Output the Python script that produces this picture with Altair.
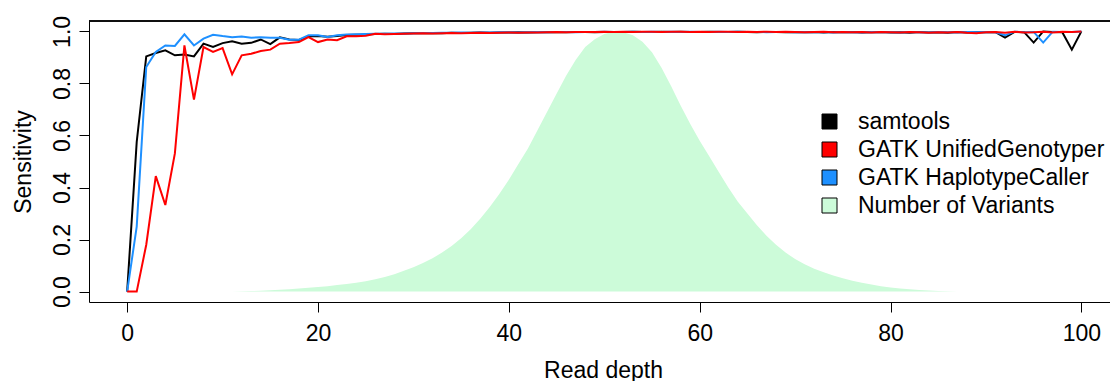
import altair as alt
import pandas as pd

# ---------------- data ----------------
depth = list(range(0, 101))

samtools = [
    0.000, 0.575, 0.904, 0.917, 0.927, 0.908, 0.911, 0.904, 0.953, 0.940,
    0.955, 0.962, 0.953, 0.956, 0.969, 0.951, 0.977, 0.969, 0.967, 0.980,
    0.982, 0.979, 0.982, 0.986, 0.987, 0.988, 0.990, 0.991, 0.990, 0.992,
    0.993, 0.993, 0.994, 0.993, 0.995, 0.994, 0.995, 0.996, 0.995, 0.996,
    0.996, 0.997, 0.996, 0.997, 0.997, 0.998, 0.997, 0.998, 0.998, 0.997,
    0.998, 0.998, 0.998, 0.999, 0.998, 0.998, 0.999, 0.998, 0.999, 0.998,
    0.998, 0.999, 0.998, 0.998, 0.999, 0.998, 0.997, 0.998, 0.998, 0.997,
    0.998, 0.997, 0.998, 0.996, 0.998, 0.997, 0.998, 0.996, 0.997, 0.998,
    0.996, 0.997, 0.995, 0.998, 0.996, 0.997, 0.995, 0.998, 0.996, 0.997,
    0.998, 0.997, 0.976, 0.998, 0.997, 0.957, 1.000, 0.998, 0.997, 0.930,
    1.000,
]

unified = [
    0.000, 0.000, 0.180, 0.444, 0.333, 0.531, 0.946, 0.738, 0.940, 0.921,
    0.936, 0.835, 0.908, 0.914, 0.925, 0.930, 0.953, 0.955, 0.959, 0.978,
    0.959, 0.969, 0.966, 0.981, 0.981, 0.983, 0.991, 0.989, 0.990, 0.991,
    0.992, 0.993, 0.992, 0.993, 0.994, 0.993, 0.994, 0.995, 0.994, 0.995,
    0.996, 0.995, 0.996, 0.996, 0.997, 0.998, 0.997, 0.998, 0.998, 0.998,
    0.999, 0.998, 0.999, 0.998, 0.999, 0.999, 0.998, 0.999, 0.999, 0.998,
    0.999, 0.998, 0.999, 0.999, 0.998, 0.999, 0.998, 0.999, 0.998, 0.999,
    0.998, 0.997, 0.998, 0.999, 0.997, 0.998, 0.997, 0.998, 0.996, 0.998,
    0.997, 0.996, 0.998, 0.997, 0.995, 0.997, 0.996, 0.998, 0.995, 0.993,
    0.997, 0.998, 0.995, 0.999, 0.996, 0.997, 0.999, 0.996, 0.999, 0.998,
    1.000,
]

haplotype = [
    0.000, 0.250, 0.863, 0.921, 0.946, 0.944, 0.989, 0.946, 0.972, 0.987,
    0.982, 0.978, 0.980, 0.976, 0.978, 0.976, 0.976, 0.968, 0.968, 0.985,
    0.985, 0.979, 0.985, 0.988, 0.989, 0.990, 0.991, 0.991, 0.992, 0.992,
    0.993, 0.994, 0.994, 0.995, 0.995, 0.996, 0.995, 0.996, 0.996, 0.997,
    0.997, 0.996, 0.997, 0.998, 0.997, 0.998, 0.998, 0.997, 0.998, 0.998,
    0.999, 0.998, 0.998, 0.999, 0.998, 0.999, 0.998, 0.999, 0.998, 0.999,
    0.998, 0.998, 0.999, 0.998, 0.999, 0.998, 0.998, 0.997, 0.998, 0.998,
    0.997, 0.998, 0.997, 0.998, 0.996, 0.998, 0.997, 0.996, 0.998, 0.997,
    0.997, 0.996, 0.998, 0.997, 0.996, 0.998, 0.997, 0.996, 0.998, 0.997,
    0.998, 0.997, 0.985, 0.999, 0.997, 0.998, 0.957, 0.999, 0.998, 0.998,
    1.000,
]

variants = [
    0.000, 0.000, 0.000, 0.000, 0.000, 0.000, 0.000, 0.000, 0.000, 0.000,
    0.000, 0.000, 0.001, 0.002, 0.003, 0.005, 0.007, 0.009, 0.012, 0.015,
    0.018, 0.021, 0.025, 0.029, 0.034, 0.040, 0.047, 0.056, 0.067, 0.080,
    0.094, 0.110, 0.128, 0.150, 0.175, 0.205, 0.240, 0.280, 0.325, 0.375,
    0.430, 0.490, 0.550, 0.620, 0.690, 0.760, 0.830, 0.890, 0.940, 0.970,
    0.990, 1.000, 0.997, 0.985, 0.960, 0.920, 0.860, 0.790, 0.715, 0.645,
    0.580, 0.520, 0.460, 0.400, 0.345, 0.300, 0.255, 0.215, 0.180, 0.150,
    0.125, 0.105, 0.088, 0.074, 0.062, 0.051, 0.042, 0.034, 0.027, 0.021,
    0.016, 0.012, 0.009, 0.006, 0.004, 0.002, 0.001, 0.000, 0.000, 0.000,
    0.000, 0.000, 0.000, 0.000, 0.000, 0.000, 0.000, 0.000, 0.000, 0.000,
    0.000,
]

legend_names = ["samtools", "GATK UnifiedGenotyper", "GATK HaplotypeCaller", "Number of Variants"]
legend_colors = ["#000000", "#ff0000", "#1e90ff", "#ccfbd9"]

x_ticks = [0, 20, 40, 60, 80, 100]
y_ticks = [0.0, 0.2, 0.4, 0.6, 0.8, 1.0]

# ---------------- chart ----------------
FONT = "Liberation Sans"
W, H = 1021, 281

df = pd.DataFrame({
    "depth": depth,
    "samtools": samtools,
    "unified": unified,
    "haplotype": haplotype,
    "variants": variants,
})
leg_df = pd.DataFrame({"series": legend_names})

x_scale = alt.Scale(domain=[-4, 103], nice=False, zero=False)
y_scale = alt.Scale(domain=[-0.04, 1.04], nice=False, zero=False)

x_axis = alt.Axis(
    values=x_ticks, title="Read depth", grid=False,
    domainColor="black", domainWidth=1, tickColor="black", tickWidth=1, tickSize=10,
    labelFont=FONT, labelFontSize=23, labelColor="black", labelBaseline="alphabetic",
    labelPadding=28, labelFlush=False, labelOverlap=False,
    titleFont=FONT, titleFontSize=23, titleFontWeight="normal", titleColor="black",
    titleX=514, titleY=75, titleBaseline="alphabetic", titleAlign="center",
)
y_axis = alt.Axis(
    values=y_ticks, format=".1f", title="Sensitivity", grid=False,
    domainColor="black", domainWidth=1, tickColor="black", tickWidth=1, tickSize=10,
    labelFont=FONT, labelFontSize=23, labelColor="black", labelAngle=270,
    labelAlign="center", labelBaseline="alphabetic", labelPadding=10,
    labelFlush=False, labelOverlap=False,
    titleFont=FONT, titleFontSize=23, titleFontWeight="normal", titleColor="black",
    titleAngle=270, titleX=-66, titleY=140.5, titleAlign="center", titleBaseline="middle",
)

base = alt.Chart(df)

area = base.mark_area(color="#ccfbd9", opacity=1, interpolate="linear").encode(
    x=alt.X("depth:Q", scale=x_scale, axis=x_axis),
    y=alt.Y("variants:Q", scale=y_scale, axis=y_axis),
)

def line(field, color):
    return base.mark_line(color=color, strokeWidth=2, clip=True).encode(
        x=alt.X("depth:Q", scale=x_scale),
        y=alt.Y(f"{field}:Q", scale=y_scale),
    )

top_border = alt.Chart(leg_df).mark_rule(color="black", strokeWidth=1).encode(
    x=alt.value(0), x2=alt.value(W), y=alt.value(0)
)

legend_layer = alt.Chart(leg_df).mark_square(opacity=0).encode(
    fill=alt.Fill(
        "series:N",
        scale=alt.Scale(domain=legend_names, range=legend_colors),
        legend=alt.Legend(
            orient="none", legendX=729, legendY=89, title=None,
            symbolType="square", symbolSize=225, symbolOpacity=1,
            symbolStrokeColor="black", symbolStrokeWidth=1,
            labelFont=FONT, labelFontSize=23, labelColor="black",
            labelOffset=17, rowPadding=4, padding=0, labelLimit=500,
        ),
        sort=legend_names,
    ),
)

chart = alt.layer(
    area,
    line("samtools", "#000000"),
    line("haplotype", "#1e90ff"),
    line("unified", "#ff0000"),
    top_border,
    legend_layer,
).properties(
    width=W, height=H,
    autosize=alt.AutoSizeParams(type="none"),
    padding={"left": 89, "top": 21, "right": 0, "bottom": 79},
    background="white",
).configure_view(stroke=None)

chart.save("out.html", embed_options={"renderer": "svg", "actions": False})
